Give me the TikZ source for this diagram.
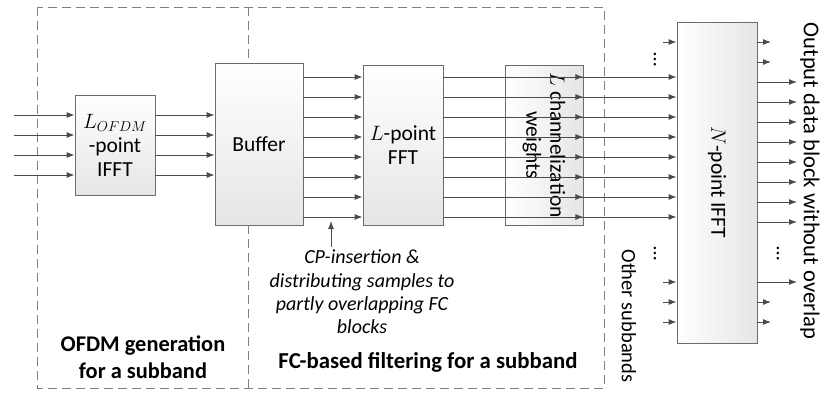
\documentclass[tikz,border=0pt]{standalone}
\usepackage{fontspec}
\setmainfont{Carlito}
\usetikzlibrary{arrows.meta,positioning}

\begin{document}
\begin{tikzpicture}[x=1pt,y=-1pt,
    block/.style={draw=gray!85!black,line width=0.8pt,top color=white,bottom color=gray!20,
      inner sep=2pt,align=center,font=\fontsize{21.5}{24}\selectfont},
    rblock/.style={block,rotate=-90,left color=white,right color=gray!20},
    sig/.style={-{Latex[length=8pt,width=6pt]},draw=black!70,line width=0.9pt},
    lbl/.style={align=center,font=\fontsize{20.5}{24}\selectfont},
    frame/.style={draw=gray,dash pattern=on 9pt off 5pt,line width=0.8pt}]
    \useasboundingbox (0,0) rectangle (829,392);
    %frame
    \draw[frame] (37,7) rectangle (604,388);
    %blocks
    \node[block,minimum width=80pt,minimum height=100pt] (ifft) at (115,145) {$L_{OFDM}$\\-point\\IFFT};
    \node[block,minimum width=88pt,minimum height=162pt] (buf) at (259,144) {Buffer};
    \node[block,minimum width=80pt,minimum height=160pt] (fft) at (403,145) {$L$-point\\FFT};
    \node[rblock,minimum width=160pt,minimum height=78pt] (wts) at (544,145) {$L$ channelization\\weights};
    \node[rblock,minimum width=321pt,minimum height=80pt] (nifft) at (717,182.5) {$N$-point IFFT};
    \coordinate (divtop) at (248,7);
    \coordinate (divbot) at (248,388);
    \draw[frame] (divtop) -- (divtop |- buf.north);
    \draw[frame] (divbot) -- (divbot |- buf.south);
    %arrows
    \foreach \y in {115,135,155,175} {
      \coordinate (in\y) at (14,\y);
      \draw[sig] (in\y) -- (ifft.west |- in\y);
      \draw[sig] (ifft.east |- in\y) -- (buf.west |- in\y);
    }
    \foreach \y in {77,97,...,217} {
      \draw[sig] (buf.east |- 0,\y) -- (fft.west |- 0,\y);
      \draw[sig] (fft.east |- 0,\y) -- (wts.north |- 0,\y);
      \draw[sig] (wts.south |- 0,\y) -- (nifft.south |- 0,\y);
    }
    \foreach \y in {42,282,302,322} {
      \coordinate (ext\y) at (663,\y);
      \draw[sig] (ext\y) -- (nifft.south |- ext\y);
    }
    \foreach \y in {42,62,302,322} {
      \coordinate (so\y) at (771,\y);
      \draw[sig] (nifft.north |- so\y) -- (so\y);
    }
    \foreach \y in {82,102,...,222,282} {
      \coordinate (out\y) at (797,\y);
      \draw[sig] (nifft.north |- out\y) -- (out\y);
    }
    %dots
    \node[lbl,rotate=-90] (d1) at (655,60) {…};
    \node[lbl,rotate=-90] (d2) at (655,254) {…};
    \node[lbl,rotate=-90] (d3) at (778,254) {…};
    %labels
    \node[lbl,font=\itshape\fontsize{20}{23.3}\selectfont] (cptxt) at (362,292)
      {CP-insertion \&\\distributing samples to\\partly overlapping FC\\blocks};
    \coordinate (cptip) at (331,221);
    \draw[sig] (cptxt.north -| cptip) -- (cptip);
    \node[lbl,font=\bfseries\fontsize{22.4}{27}\selectfont] (ofdmlbl) at (143,357) {OFDM generation\\for a subband};
    \node[lbl,font=\bfseries\fontsize{22.8}{24}\selectfont] (fclbl) at (428,362) {FC-based filtering for a subband};
    \node[lbl,rotate=-90,font=\fontsize{22.6}{24}\selectfont] (outlbl) at (810,181) {Output data block without overlap};
    \node[lbl,rotate=-90] (other) at (629,316) {Other subbands};
\end{tikzpicture}
\end{document}
